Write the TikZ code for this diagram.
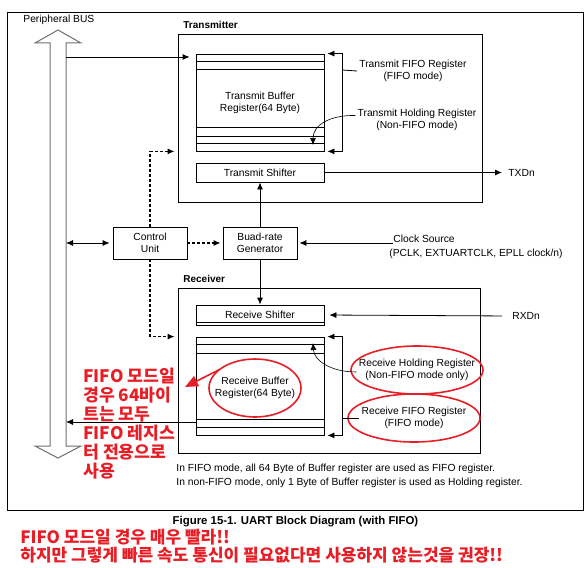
\documentclass[tikz,border=0pt]{standalone}
\usepackage{fontspec}
\setmainfont{Liberation Sans}
\newfontfamily\kr{Noto Sans CJK KR}
\usetikzlibrary{arrows.meta,
                positioning}

\definecolor{memo}{RGB}{232,30,38}
\definecolor{busgray}{RGB}{110,110,110}

\begin{document}
\begin{tikzpicture}[x=1pt, y=-1pt, line width=0.8pt,
        font=\fontsize{10.3}{12}\selectfont,
        box/.style={draw, inner sep=0pt, align=center},
        lbl/.style={inner sep=0pt, anchor=west},
        arr/.style={-{Latex[length=7pt,width=6pt]}},
        dbl/.style={{Latex[length=7pt,width=6pt]}-{Latex[length=7pt,width=6pt]}},
        dsh/.style={arr, line width=1.2pt, dash pattern=on 3pt off 2pt},
        memoline/.style={memo, line width=1.6pt}]
    \useasboundingbox (0,0) rectangle (588,567);
    \draw (7,12) rectangle (583,510);

    \draw[busgray, line width=1pt] (50,446) -- (50,43) -- (35,43) -- (58,30) -- (81,43) -- (66,43) -- (66,446) -- (81,446) -- (58,458) -- (35,446) -- cycle;
    \node[lbl] (busname) at (23,20) {Peripheral BUS};
    \coordinate (busTx) at (66,57);
    \coordinate (busCtl) at (66,243);
    \coordinate (busRx) at (66,422);

    \node[box, minimum width=304, minimum height=168] (txbox) at (330,118) {};
    \node[lbl, font=\bfseries] (txtitle) at (183,25) {Transmitter};
    \node[box, minimum width=128, minimum height=97] (txbuf) at (260,102.5) {Transmit Buffer\\Register(64 Byte)};
    \foreach \d in {8,16}
        \draw ([yshift=-\d pt]txbuf.north west) -- ([yshift=-\d pt]txbuf.north east);
    \foreach \d in {8,15,24}
        \draw ([yshift=\d pt]txbuf.south west) -- ([yshift=\d pt]txbuf.south east);
    \node[box, minimum width=128, minimum height=19] (txshift) at (260,172.5) {Transmit Shifter};
    \draw[arr, shorten >=6pt] (busTx) -- (busTx -| txbuf.west);

    \coordinate (txbr) at (342,70);
    \node[align=center, inner sep=2pt] (txfifo) at (413,71) {Transmit FIFO Register\\(FIFO mode)};
    \draw (txfifo.west) -- (txbr);
    \draw[arr, shorten >=3pt] (txbr) |- (txbuf.north east);
    \draw[arr, shorten >=3pt] (txbr) |- (txbuf.south east);
    \node[align=center, inner sep=2pt] (txhold) at (417,119.5) {Transmit Holding Register\\(Non-FIFO mode)};
    \draw[arr, line width=0.6pt] ([yshift=4pt]txhold.west) .. controls (330,115) and (313,125) .. (313,145);
    \node[lbl] (txd) at (508,172.5) {TXDn};
    \draw[arr, shorten >=6pt] (txshift.east) -- (txd.west);

    \node[box, minimum width=302, minimum height=165] (rxbox) at (329,370.5) {};
    \node[lbl, font=\bfseries] (rxtitle) at (183,279) {Receiver};
    \node[box, minimum width=128, minimum height=20] (rxshift) at (260,315) {Receive Shifter};
    \draw ([yshift=3pt]rxshift.south west) -- ([yshift=3pt]rxshift.south east);
    \node[box, minimum width=128, minimum height=98] (rxbuf) at (260,386) {};
    \foreach \d in {8,17}
        \draw ([yshift=-\d pt]rxbuf.north west) -- ([yshift=-\d pt]rxbuf.north east);
    \foreach \d in {8,16}
        \draw ([yshift=\d pt]rxbuf.south west) -- ([yshift=\d pt]rxbuf.south east);

    \node[box, minimum width=74, minimum height=32] (ctrl) at (150,243) {Control\\Unit};
    \node[box, minimum width=74, minimum height=32] (baud) at (260,243) {Buad-rate\\Generator};
    \draw[dbl, shorten >=3pt] (busCtl) -- (ctrl.west);
    \draw[dsh, shorten >=2pt] (ctrl.east) -- (baud.west);
    \draw[dsh, shorten >=3pt] (ctrl.north) |- (txbuf.south -| txbox.west);
    \draw[dsh, shorten >=3pt] (ctrl.south) |- (rxbuf.north -| rxbox.west);
    \draw[arr] (baud.north) -- (txshift.south);
    \draw[arr] (baud.south) -- (rxshift.north);
    \node[lbl] (clk) at (393,239) {Clock Source};
    \node[lbl] (clksrc) at (389,254) {(PCLK, EXTUARTCLK, EPLL clock/n)};
    \draw[arr, shorten >=2pt] ([yshift=-4pt]clk.west) -- (baud.east);

    \node[align=center, inner sep=0pt] (rxbuftxt) at (255,388) {Receive Buffer\\Register(64 Byte)};
    \draw[memoline] (rxbuftxt) ellipse [x radius=46, y radius=29];
    \node[lbl] (rxd) at (512,316) {RXDn};
    \draw[arr, shorten <=10pt, shorten >=5pt] (rxd.west) -- (rxshift.east);

    \coordinate (rxbr) at (342,418);
    \node[align=center, inner sep=2pt] (rxfifo) at (414,418) {Receive FIFO Register\\(FIFO mode)};
    \draw[memoline] (rxfifo) ellipse [x radius=66, y radius=24];
    \draw (rxfifo.west) -- (rxbr);
    \draw[arr, shorten >=3pt] (rxbr) |- (rxbuf.north east);
    \draw[arr, shorten >=3pt] (rxbr) |- (rxbuf.south east);
    \node[align=center, inner sep=2pt] (rxhold) at (417,370) {Receive Holding Register\\(Non-FIFO mode only)};
    \draw[memoline] (rxhold) ellipse [x radius=66, y radius=24];
    \draw[arr, line width=0.6pt] ([yshift=-2pt]rxhold.west) .. controls (330,372) and (314,360) .. (313,343);
    \draw[arr] ([yshift=-36pt]rxbuf.west) -- (busRx);

    \path (rxbuftxt) ++(140:46pt and 29pt) coordinate (redstart);
    \coordinate (redtip) at (185,387);
    \draw[memoline, -{Triangle[length=13pt,width=11pt]}] (redstart) -- (redtip);
    \node[anchor=north west, inner sep=0pt, align=left, text=memo, font=\kr\bfseries\fontsize{17.2}{19}\selectfont] (krnote) at (83,368) {FIFO 모드일\\경우 64바이\\트는 모두\\FIFO 레지스\\터 전용으로\\사용};

    \node[lbl, align=left, font=\fontsize{10.3}{14}\selectfont] (fifonote) at (176,476) {In FIFO mode, all 64 Byte of Buffer register are used as FIFO register.\\In non-FIFO mode, only 1 Byte of Buffer register is used as Holding register.};
    \node[font=\bfseries\fontsize{11.4}{13}\selectfont] (caption) at (295.5,522) {Figure 15-1. UART Block Diagram (with FIFO)};
    \node[lbl, text=memo, font=\kr\bfseries\fontsize{17}{18}\selectfont] (krline1) at (20,537) {FIFO 모드일 경우 매우 빨라!!};
    \node[lbl, text=memo, font=\kr\bfseries\fontsize{17}{18}\selectfont] (krline2) at (20,555) {하지만 그렇게 빠른 속도 통신이 필요없다면 사용하지 않는것을 권장!!};
\end{tikzpicture}
\end{document}
